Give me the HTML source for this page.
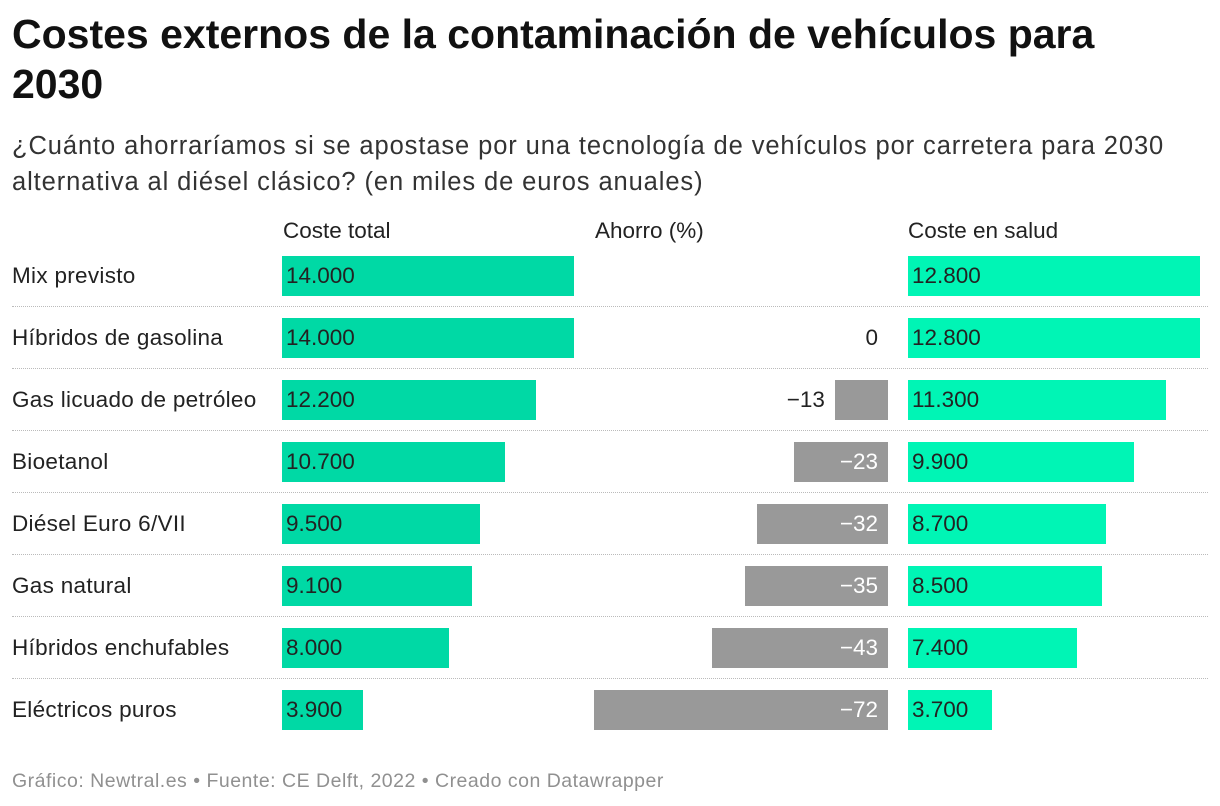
<!DOCTYPE html>
<html><head><meta charset="utf-8"><style>
body{margin:0;width:1220px;height:806px;background:#fff;font-family:"Liberation Sans",sans-serif;color:#222;position:relative;overflow:hidden}
.abs{position:absolute;white-space:nowrap}
h1{position:absolute;left:12px;top:9px;margin:0;font-size:41px;line-height:50px;font-weight:bold;color:#111;width:1110px}
.sub{position:absolute;left:12px;top:128px;font-size:25.5px;letter-spacing:0.9px;line-height:36px;color:#333;width:1185px}
.hdr{font-size:22.5px;top:218px;color:#222}
.lab{font-size:22.5px;color:#222}
.sep{position:absolute;left:12px;width:1196px;border-top:1px dotted #bbb;height:0}
.foot{position:absolute;left:12px;top:770px;font-size:19.5px;letter-spacing:0.5px;color:#909090}
</style></head><body>
<h1>Costes externos de la contaminación de vehículos para 2030</h1>
<div class="sub">¿Cuánto ahorraríamos si se apostase por una tecnología de vehículos por carretera para 2030 alternativa al diésel clásico? (en miles de euros anuales)</div>
<div class="abs hdr" style="left:283px">Coste total</div>
<div class="abs hdr" style="left:595px">Ahorro (%)</div>
<div class="abs hdr" style="left:908px">Coste en salud</div>
<div id="rows"></div>
<div class="foot">Gráfico: Newtral.es • Fuente: CE Delft, 2022 • Creado con Datawrapper</div>
<script>
const categories=["Mix previsto","Híbridos de gasolina","Gas licuado de petróleo","Bioetanol","Diésel Euro 6/VII","Gas natural","Híbridos enchufables","Eléctricos puros"];
const totalCost=[14000,14000,12200,10700,9500,9100,8000,3900];
const savings=[null,0,-13,-23,-32,-35,-43,-72];
const healthCost=[12800,12800,11300,9900,8700,8500,7400,3700];
const fmt=v=>v.toLocaleString('de-DE');
const xTotal=v=>v*292/14000;
const xSave=v=>Math.abs(v)*294/72;
const xHealth=v=>v*292/12800;
const root=document.getElementById('rows');
function mk(cls,style,text){const d=document.createElement('div');d.className=cls;d.style.cssText=style;if(text!=null)d.textContent=text;root.appendChild(d);return d;}
categories.forEach((c,i)=>{
  const top=256+i*62;
  const l=mk('abs lab',`left:12px;top:${top+7}px;letter-spacing:0.3px`,c);
  
  
  const b1=mk('abs lab',`left:282px;top:${top}px;height:40px;line-height:40px;width:${xTotal(totalCost[i])}px;background:#00d9a5;padding-left:4px;box-sizing:border-box`,fmt(totalCost[i]));
  
  
  if(savings[i]!==null){
    const w=xSave(savings[i]);
    const b2=mk('abs',`left:${888-w}px;top:${top}px;height:40px;width:${w}px;background:#999`);
    
    
    const txt=savings[i]===0?'0':'−'+Math.abs(savings[i]);
    const inside=w>60;
    const right=inside?(1220-888+10):(1220-(888-w)+10);
    const t=mk('abs lab',`right:${right}px;top:${top}px;line-height:40px;color:${inside?'#fff':'#222'}`,txt);
    
    
  }
  const b3=mk('abs lab',`left:908px;top:${top}px;height:40px;line-height:40px;width:${xHealth(healthCost[i])}px;background:#00f5b5;padding-left:4px;box-sizing:border-box`,fmt(healthCost[i]));
  
  
  if(i<categories.length-1){
    const s=mk('sep',`top:${top+50}px`);
    
    
  }
});
</script>
</body></html>
